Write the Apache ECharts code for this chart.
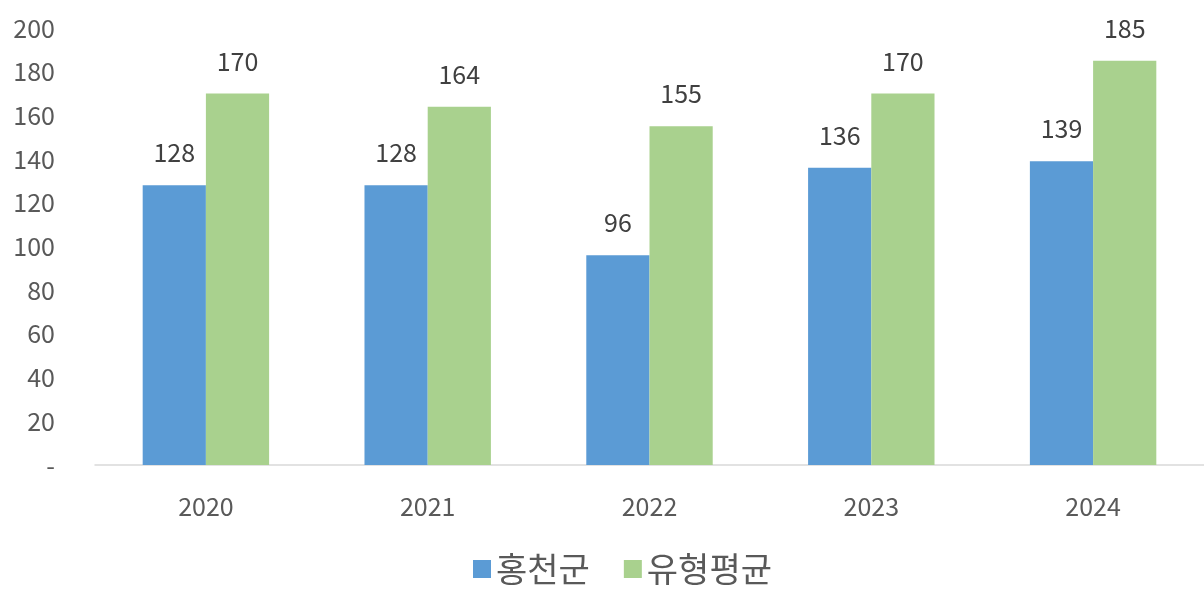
<!DOCTYPE html>
<html><head><meta charset="utf-8">
<script src="https://cdn.jsdelivr.net/npm/echarts@6/dist/echarts.min.js"></script>
<style>html,body{margin:0;padding:0;background:#fff}#c{width:1204px;height:591px}</style>
</head><body><div id="c"></div>
<script>
const categories = ['2020', '2021', '2022', '2023', '2024'];
const seriesNames = ['홍천군', '유형평균'];
const hongcheon = [128, 128, 96, 136, 139];
const typeAvg = [170, 164, 155, 170, 185];
const yTicks = { min: 0, max: 200, interval: 20 };

const font = '"Noto Sans CJK KR", "Noto Sans", sans-serif';
const chart = echarts.init(document.getElementById('c'));
const labelCfg = { show: true, position: 'top', distance: 20, fontSize: 25, color: '#404040', fontFamily: font };
chart.setOption({
  animation: false,
  textStyle: { fontFamily: font },
  grid: { left: 95, right: 0, top: 28, bottom: 126 },
  legend: {
    bottom: 0, left: 468, itemWidth: 18, itemHeight: 18, itemGap: 34, icon: 'rect',
    textStyle: { fontSize: 34, color: '#595959', fontFamily: font },
    data: seriesNames
  },
  xAxis: {
    type: 'category', data: categories,
    axisLine: { lineStyle: { color: '#D9D9D9', width: 1.5 } },
    axisTick: { show: false },
    axisLabel: { fontSize: 25, color: '#595959', margin: 29 }
  },
  yAxis: {
    type: 'value', min: yTicks.min, max: yTicks.max, interval: yTicks.interval,
    splitLine: { show: false }, axisLine: { show: false }, axisTick: { show: false },
    axisLabel: { fontSize: 25, color: '#595959', margin: 40, formatter: v => v === 0 ? '-' : v }
  },
  series: [
    { name: seriesNames[0], type: 'bar', data: hongcheon, barGap: '0%', barCategoryGap: '43%',
      itemStyle: { color: '#5B9BD5' }, label: labelCfg },
    { name: seriesNames[1], type: 'bar', data: typeAvg,
      itemStyle: { color: '#A9D18E' }, label: labelCfg }
  ]
});
</script></body></html>
